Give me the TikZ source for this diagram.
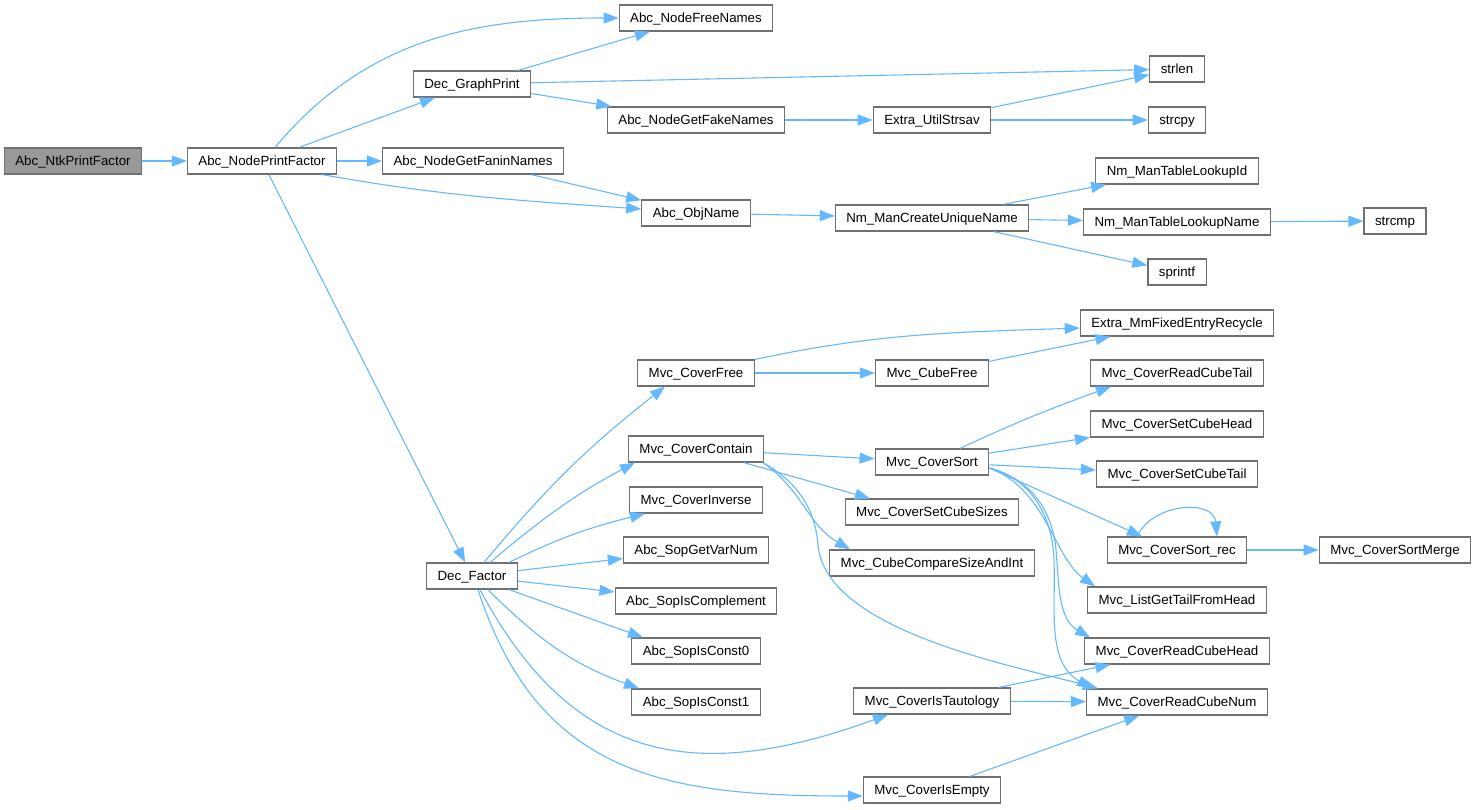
\documentclass[tikz,border=0pt]{standalone}
\usepackage{fontspec}
\setmainfont{Liberation Sans}
\usetikzlibrary{arrows.meta}
\definecolor{edgeblue}{HTML}{63B8FF}
\definecolor{boxline}{HTML}{707070}
\definecolor{rootfill}{HTML}{999999}

\begin{document}
\begin{tikzpicture}[x=1pt,y=1pt,
    fn/.style={draw=boxline,line width=1.2pt,fill=white,minimum height=26pt,inner xsep=11pt,inner ysep=0pt,
      text height=9.6pt,text depth=0pt,font=\fontsize{13.3}{16}\selectfont},
    root/.style={fn,fill=rootfill},
    edge/.style={draw=edgeblue,line width=1.1pt,-{Triangle[length=15pt,width=11pt]}}]
    \useasboundingbox (0,0) rectangle (1475,-809);

    \node[root] at (73,-161) (ntk) {Abc\_NtkPrintFactor};
    \node[fn] at (262,-161) (nodepf) {Abc\_NodePrintFactor};
    \node[fn] at (472,-84) (graphprint) {Dec\_GraphPrint};
    \node[fn] at (473,-161) (fanin) {Abc\_NodeGetFaninNames};
    \node[fn] at (472,-576) (decf) {Dec\_Factor};
    \node[fn] at (696,-18) (freenames) {Abc\_NodeFreeNames};
    \node[fn] at (696,-120) (fakenames) {Abc\_NodeGetFakeNames};
    \node[fn] at (696,-213) (objname) {Abc\_ObjName};
    \node[fn] at (696,-373) (coverfree) {Mvc\_CoverFree};
    \node[fn] at (696,-449) (contain) {Mvc\_CoverContain};
    \node[fn] at (696,-500) (inverse) {Mvc\_CoverInverse};
    \node[fn] at (696,-550) (varnum) {Abc\_SopGetVarNum};
    \node[fn] at (696,-601) (compl) {Abc\_SopIsComplement};
    \node[fn] at (696,-651) (const0) {Abc\_SopIsConst0};
    \node[fn] at (696,-702) (const1) {Abc\_SopIsConst1};
    \node[fn] at (932,-120) (strsav) {Extra\_UtilStrsav};
    \node[fn] at (932,-218) (uniq) {Nm\_ManCreateUniqueName};
    \node[fn] at (932,-373) (cubefree) {Mvc\_CubeFree};
    \node[fn] at (932,-462) (sort) {Mvc\_CoverSort};
    \node[fn] at (932,-512) (sizes) {Mvc\_CoverSetCubeSizes};
    \node[fn] at (932,-563) (compare) {Mvc\_CubeCompareSizeAndInt};
    \node[fn] at (932,-701) (tauto) {Mvc\_CoverIsTautology};
    \node[fn] at (932,-790) (empty) {Mvc\_CoverIsEmpty};
    \node[fn] at (1177,-69) (strlen) {strlen};
    \node[fn] at (1177,-120) (strcpy) {strcpy};
    \node[fn] at (1177,-171) (lookupid) {Nm\_ManTableLookupId};
    \node[fn] at (1177,-222) (lookupname) {Nm\_ManTableLookupName};
    \node[fn] at (1177,-272) (sprintf) {sprintf};
    \node[fn] at (1177,-323) (recycle) {Extra\_MmFixedEntryRecycle};
    \node[fn] at (1177,-373) (readtail) {Mvc\_CoverReadCubeTail};
    \node[fn] at (1177,-424) (sethead) {Mvc\_CoverSetCubeHead};
    \node[fn] at (1177,-474) (settail) {Mvc\_CoverSetCubeTail};
    \node[fn] at (1177,-550) (sortrec) {Mvc\_CoverSort\_rec};
    \node[fn] at (1177,-600) (listtail) {Mvc\_ListGetTailFromHead};
    \node[fn] at (1177,-651) (readhead) {Mvc\_CoverReadCubeHead};
    \node[fn] at (1177,-702) (readnum) {Mvc\_CoverReadCubeNum};
    \node[fn] at (1395,-221) (strcmp) {strcmp};
    \node[fn] at (1395,-550) (merge) {Mvc\_CoverSortMerge};

    \draw[edge] (ntk) -- (nodepf);
    \draw[edge] ([xshift=13pt]nodepf.north) to[out=50,in=180] (freenames.west);
    \draw[edge] (nodepf) -- (graphprint);
    \draw[edge] (nodepf) -- (fanin);
    \draw[edge] ([xshift=60pt]nodepf.south) to[out=-10,in=176] ([yshift=4pt]objname.west);
    \draw[edge] (nodepf) -- (decf);
    \draw[edge] (graphprint) -- (freenames);
    \draw[edge] (graphprint) -- (strlen);
    \draw[edge] (graphprint) -- (fakenames);
    \draw[edge] (fanin) -- (objname);
    \draw[edge] (fakenames) -- (strsav);
    \draw[edge] (strsav) -- (strlen);
    \draw[edge] (strsav) -- (strcpy);
    \draw[edge] (objname) -- (uniq);
    \draw[edge] (uniq) -- (lookupid);
    \draw[edge] (uniq) -- (lookupname);
    \draw[edge] (uniq) -- (sprintf);
    \draw[edge] (lookupname) -- (strcmp);

    \draw[edge] ([xshift=12pt]decf.north) to[out=50,in=218] ([xshift=-31pt]coverfree.south);
    \draw[edge] ([xshift=18pt]decf.north) to[out=40,in=208] ([xshift=-61pt]contain.south);
    \draw[edge] ([xshift=37pt]decf.north) to[out=26,in=194] ([xshift=-51pt]inverse.south);
    \draw[edge] (decf) -- (varnum);
    \draw[edge] (decf) -- (compl);
    \draw[edge] ([xshift=37pt]decf.south) -- ([xshift=-53pt]const0.north);
    \draw[edge] ([xshift=16pt]decf.south) to[out=-45,in=160] ([xshift=-57pt]const1.north);
    \draw[edge] ([xshift=8pt]decf.south) to[out=-62,in=200,looseness=1.2] ([xshift=-44pt]tauto.south);
    \draw[edge] ([xshift=6pt]decf.south) to[out=-72,in=180,looseness=1.15] ([yshift=-6pt]empty.west);

    \draw[edge] (coverfree.north east) to[out=12,in=182] ([yshift=-5pt]recycle.west);
    \draw[edge] (coverfree) -- (cubefree);
    \draw[edge] (cubefree) -- (recycle);
    \draw[edge] (contain) -- (sort);
    \draw[edge] (contain) -- ([xshift=-62pt]sizes.north);
    \draw[edge] ([xshift=67pt]contain.south) to[out=-35,in=150] ([xshift=-82pt]compare.north);
    \draw[edge] ([xshift=67pt]contain.south) to[out=-30,in=95] (818,-545) to[out=-85,in=165,looseness=0.7] ([xshift=12pt]readnum.north west);

    \draw[edge] ([xshift=28pt]sort.north) to[out=25,in=200] ([xshift=21pt]readtail.south west);
    \draw[edge] (sort) -- (sethead);
    \draw[edge] (sort) -- (settail);
    \draw[edge] ([yshift=-6pt]sort.east) -- ([xshift=-35pt]sortrec.north);
    \draw[edge] ([yshift=-6pt]sort.east) to[out=-20,in=145,out distance=60pt,in distance=50pt] ([xshift=8pt]listtail.north west);
    \draw[edge] ([yshift=-6pt]sort.east) to[out=-15,in=95] (1056,-550) to[out=-85,in=150] ([xshift=6pt]readhead.north west);
    \draw[edge] ([yshift=-6pt]sort.east) to[out=-15,in=92] (1054,-560) to[out=-88,in=150] ([xshift=6pt]readnum.north west);

    \draw[edge] ([xshift=-40pt]sortrec.north) to[out=65,in=95,looseness=1.2] ([xshift=40pt]sortrec.north);
    \draw[edge] (sortrec) -- (merge);
    \draw[edge] (tauto) -- (readhead);
    \draw[edge] (tauto) -- (readnum);
    \draw[edge] (empty) -- (readnum);
\end{tikzpicture}
\end{document}
